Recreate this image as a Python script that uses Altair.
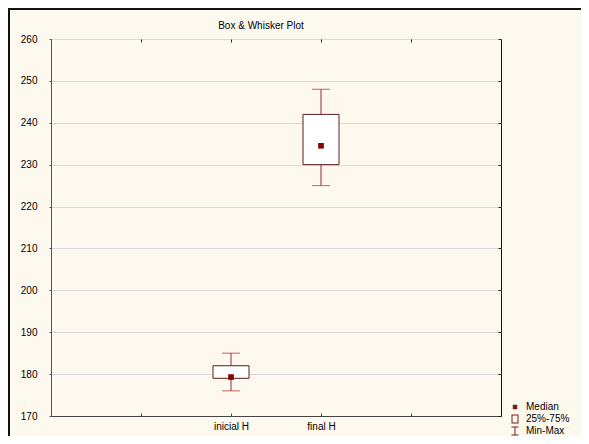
import altair as alt
import pandas as pd

# ---- data ----
categories = ["inicial H", "final H"]
mins = [176, 225]
q1s = [179, 230]
medians = [179.3, 234.5]
q3s = [182, 242]
maxs = [185, 248]

x_domain = ["", "inicial H", "final H", " "]
y_ticks = [170, 180, 190, 200, 210, 220, 230, 240, 250, 260]
legend_kinds = ["Median", "25%-75%", "Min-Max"]

df = pd.DataFrame({"cat": categories, "lo": mins, "q1": q1s,
                   "med": medians, "q3": q3s, "hi": maxs})
leg_df = pd.DataFrame({"kind": legend_kinds})

FONT = "Liberation Sans"
WHISK = "#A2262C"
BOXC = "#5E1C1C"
MED = "#8B0000"
BG = "#FEF9EE"

xs = alt.Scale(type="point", domain=x_domain, padding=1)
ys = alt.Scale(domain=[170, 260], nice=False, zero=False)

left_axis = alt.Axis(orient="left", values=y_ticks, grid=True, gridColor="#DADADA",
                     domain=True, domainColor="#555555", tickSize=2, tickColor="#555555",
                     labelPadding=12, labelFont=FONT, labelFontSize=10,
                     labelColor="black", title=None)
bottom_labels = alt.Axis(orient="bottom", ticks=False, domain=True, domainColor="#444444",
                         labelPadding=5, labelFont=FONT, labelFontSize=10,
                         labelColor="black", labelAngle=0, grid=False, title=None)
bottom_ticks = alt.Axis(orient="bottom", offset=-3, tickSize=3, tickColor="#444444",
                        labels=False, domain=False, grid=False, title=None)
top_ticks = alt.Axis(orient="top", offset=-3, tickSize=3, tickColor="#222222",
                     labels=False, domain=False, grid=False, title=None)
right_ticks = alt.Axis(orient="right", offset=-3, tickSize=3, tickColor="#222222",
                       values=y_ticks, labels=False, domain=False, grid=False, title=None)

base = alt.Chart(df)

whisker = base.mark_rule(color=WHISK, strokeWidth=1).encode(
    x=alt.X("cat:N", scale=xs, axis=bottom_labels, sort=None),
    y=alt.Y("lo:Q", scale=ys, axis=left_axis),
    y2="hi:Q",
)

box = base.mark_bar(size=36, fill="white", stroke=BOXC, strokeWidth=1).encode(
    x=alt.X("cat:N", scale=xs, axis=bottom_ticks, sort=None),
    y=alt.Y("q1:Q", scale=ys, axis=right_ticks),
    y2="q3:Q",
)

cap_lo = base.mark_tick(orient="horizontal", size=18, thickness=1, color=WHISK).encode(
    x=alt.X("cat:N", scale=xs, axis=top_ticks, sort=None),
    y=alt.Y("lo:Q", scale=ys, axis=None),
)

cap_hi = base.mark_tick(orient="horizontal", size=18, thickness=1, color=WHISK).encode(
    x=alt.X("cat:N", scale=xs, axis=None, sort=None),
    y=alt.Y("hi:Q", scale=ys, axis=None),
)

median = base.mark_square(size=32, color=MED, opacity=1).encode(
    x=alt.X("cat:N", scale=xs, axis=None, sort=None),
    y=alt.Y("med:Q", scale=ys, axis=None),
)

p_dot = "M-0.45,-0.45H0.45V0.45H-0.45Z"
p_box = "M-0.7,-0.9H0.7V0.9H-0.7Z M-0.5,-0.7V0.7H0.5V-0.7Z"
p_whisk = ("M-0.7,-0.9H0.7V-0.7H-0.7Z M-0.1,-0.7H0.1V0.7H-0.1Z "
           "M-0.7,0.7H0.7V0.9H-0.7Z")

legend_layer = alt.Chart(leg_df).mark_point(filled=True, color="#7A1E1E", opacity=0).encode(
    shape=alt.Shape("kind:N",
                    scale=alt.Scale(domain=legend_kinds, range=[p_dot, p_box, p_whisk]),
                    legend=alt.Legend(title=None, orient="none", legendX=459, legendY=363,
                                      symbolSize=100, symbolFillColor="#7A1E1E",
                                      symbolStrokeWidth=0, symbolOpacity=1,
                                      labelFont=FONT, labelFontSize=10, labelColor="black",
                                      labelOffset=6, rowPadding=2, padding=0)),
)

one = alt.Data(values=[{"k": 1}])
frame_top = alt.Chart(one).mark_rule(color="#111111", strokeWidth=2).encode(
    x=alt.value(-43), x2=alt.value(530), y=alt.value(-30))
frame_left = alt.Chart(one).mark_rule(color="#111111", strokeWidth=2).encode(
    x=alt.value(-42), y=alt.value(-31), y2=alt.value(397))

chart = alt.layer(
    frame_top, frame_left, whisker, box, cap_lo, cap_hi, median, legend_layer
).resolve_axis(
    x="independent", y="independent"
).properties(
    width=450, height=377,
    padding={"left": 43, "top": 31, "right": 80, "bottom": 20},
    autosize=alt.AutoSizeParams(type="none"),
    background=BG,
    title=alt.TitleParams("Box & Whisker Plot", anchor="middle", frame="group", dx=-15,
                          offset=-34, baseline="bottom", font=FONT, fontSize=10,
                          fontWeight="normal", color="black"),
).configure_view(stroke="#111111", strokeWidth=1)

chart.save("out.html", embed_options={"renderer": "svg", "actions": False})
